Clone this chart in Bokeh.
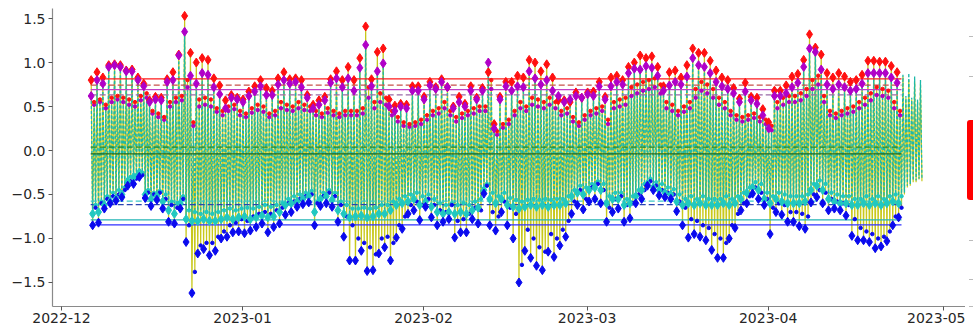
import numpy as np
import pandas as pd
from bokeh.plotting import figure
from bokeh.models import FixedTicker, CustomJSTickFormatter, Range1d, Div
from bokeh.layouts import row
from bokeh.embed import file_html
from bokeh.resources import INLINE

# ---------------- data ----------------
start_date = "2022-12-06"

# observed higher high (red diamonds)
hh_obs = [0.80, 0.89, 0.83, 0.97, 0.98, 0.97, 0.91, 0.92, 0.83, 0.76,
          0.57, 0.61, 0.60, 0.81, 0.89, 1.09, 1.53, 1.11, 1.00, 1.05,
          1.03, 0.82, 0.74, 0.57, 0.63, 0.60, 0.58, 0.67, 0.73, 0.80,
          0.71, 0.68, 0.82, 0.89, 0.81, 0.82, 0.80, 0.63, 0.52, 0.57,
          0.61, 0.81, 0.90, 0.80, 0.95, 0.80, 1.05, 1.41, 0.81, 1.12,
          1.16, 0.58, 0.51, 0.53, 0.52, 0.73, 0.73, 0.61, 0.78, 0.72,
          0.81, 0.72, 0.50, 0.61, 0.53, 0.73, 0.60, 0.71, 0.89, 0.30,
          0.61, 0.78, 0.78, 0.85, 0.83, 1.03, 1.00, 0.90, 0.98, 0.83,
          0.57, 0.57, 0.55, 0.66, 0.60, 0.66, 0.67, 0.78, 0.61, 0.83,
          0.85, 0.80, 0.95, 1.00, 1.08, 1.05, 1.07, 0.95, 0.73, 0.89,
          0.91, 0.83, 0.97, 1.16, 1.11, 1.11, 1.02, 0.91, 0.83, 0.80,
          0.71, 0.59, 0.77, 0.61, 0.60, 0.47, 0.32, 0.68, 0.68, 0.74,
          0.84, 0.87, 1.03, 1.32, 1.17, 1.09, 0.88, 0.83, 0.88, 0.84,
          0.78, 0.80, 0.86, 1.02, 1.02, 1.01, 1.01, 0.96, 0.89]

# predicted higher high (purple diamonds)
hh_pred = [0.62, 0.80, 0.76, 0.95, 0.97, 0.95, 0.90, 0.90, 0.80, 0.73,
           0.55, 0.58, 0.57, 0.78, 0.80, 1.08, 1.35, 0.85, 0.76, 0.88,
           0.86, 0.72, 0.64, 0.48, 0.60, 0.58, 0.55, 0.62, 0.67, 0.73,
           0.63, 0.63, 0.75, 0.80, 0.76, 0.78, 0.72, 0.60, 0.48, 0.52,
           0.57, 0.77, 0.82, 0.72, 0.82, 0.68, 0.94, 1.20, 0.73, 0.90,
           0.99, 0.50, 0.45, 0.50, 0.48, 0.68, 0.68, 0.58, 0.74, 0.70,
           0.78, 0.72, 0.48, 0.55, 0.50, 0.68, 0.58, 0.68, 1.00, 0.25,
           0.58, 0.73, 0.68, 0.73, 0.72, 0.90, 0.82, 0.75, 0.80, 0.68,
           0.62, 0.55, 0.58, 0.62, 0.60, 0.64, 0.62, 0.73, 0.58, 0.73,
           0.78, 0.75, 0.88, 0.93, 0.92, 0.96, 0.94, 0.85, 0.68, 0.74,
           0.78, 0.75, 0.84, 1.05, 0.97, 0.95, 0.88, 0.78, 0.73, 0.70,
           0.65, 0.55, 0.67, 0.57, 0.53, 0.40, 0.25, 0.62, 0.62, 0.65,
           0.72, 0.77, 0.95, 1.16, 1.12, 0.92, 0.75, 0.70, 0.75, 0.72,
           0.68, 0.70, 0.76, 0.88, 0.88, 0.88, 0.88, 0.83, 0.77]

# observed lower high (small red dots)
lh_obs = [0.55, 0.58, 0.52, 0.60, 0.62, 0.60, 0.58, 0.55, 0.62, 0.65,
          0.45, 0.42, 0.38, 0.55, 0.60, 0.62, 0.80, 0.32, 0.58, 0.60,
          0.58, 0.48, 0.45, 0.50, 0.52, 0.45, 0.42, 0.48, 0.52, 0.50,
          0.42, 0.45, 0.55, 0.52, 0.50, 0.55, 0.52, 0.50, 0.45, 0.42,
          0.48, 0.45, 0.42, 0.45, 0.45, 0.45, 0.48, 0.72, 0.55, 0.65,
          0.60, 0.45, 0.38, 0.32, 0.30, 0.32, 0.35, 0.40, 0.45, 0.48,
          0.55, 0.45, 0.38, 0.42, 0.45, 0.48, 0.50, 0.50, 0.80, 0.22,
          0.30, 0.35, 0.45, 0.55, 0.50, 0.60, 0.58, 0.55, 0.60, 0.55,
          0.45, 0.48, 0.38, 0.32, 0.40, 0.45, 0.48, 0.50, 0.35, 0.55,
          0.58, 0.60, 0.72, 0.75, 0.78, 0.80, 0.82, 0.75, 0.55, 0.52,
          0.45, 0.50, 0.55, 0.70, 0.78, 0.75, 0.70, 0.60, 0.55, 0.45,
          0.40, 0.38, 0.40, 0.42, 0.38, 0.35, 0.28, 0.55, 0.60, 0.62,
          0.62, 0.65, 0.70, 0.80, 0.85, 0.62, 0.45, 0.42, 0.45, 0.48,
          0.50, 0.55, 0.60, 0.65, 0.72, 0.70, 0.68, 0.55, 0.45]

# predicted lower high (small purple dots)
lh_pred = [0.52, 0.55, 0.48, 0.55, 0.58, 0.55, 0.52, 0.50, 0.57, 0.60,
           0.42, 0.38, 0.35, 0.50, 0.55, 0.57, 0.72, 0.28, 0.50, 0.52,
           0.50, 0.44, 0.40, 0.45, 0.47, 0.40, 0.38, 0.43, 0.46, 0.44,
           0.38, 0.40, 0.48, 0.46, 0.45, 0.48, 0.46, 0.45, 0.40, 0.38,
           0.43, 0.40, 0.38, 0.40, 0.40, 0.40, 0.42, 0.60, 0.48, 0.55,
           0.52, 0.40, 0.33, 0.28, 0.27, 0.28, 0.30, 0.35, 0.40, 0.42,
           0.48, 0.40, 0.33, 0.37, 0.40, 0.42, 0.45, 0.45, 0.70, 0.18,
           0.26, 0.30, 0.40, 0.48, 0.45, 0.52, 0.50, 0.48, 0.52, 0.48,
           0.40, 0.42, 0.33, 0.28, 0.35, 0.40, 0.42, 0.45, 0.30, 0.48,
           0.50, 0.52, 0.62, 0.65, 0.68, 0.70, 0.72, 0.65, 0.48, 0.45,
           0.40, 0.44, 0.48, 0.60, 0.68, 0.65, 0.60, 0.52, 0.48, 0.40,
           0.35, 0.33, 0.35, 0.37, 0.33, 0.30, 0.23, 0.48, 0.52, 0.55,
           0.55, 0.57, 0.62, 0.70, 0.75, 0.55, 0.40, 0.37, 0.40, 0.42,
           0.44, 0.48, 0.52, 0.57, 0.63, 0.62, 0.60, 0.48, 0.40]

# observed lower low (blue diamonds)
ll_obs = [-0.85, -0.82, -0.66, -0.60, -0.57, -0.53, -0.40, -0.38, -0.30, -0.54,
          -0.63, -0.56, -0.66, -0.81, -0.83, -0.66, -1.04, -1.62, -1.17, -1.12,
          -1.19, -1.14, -1.00, -0.98, -0.93, -0.92, -0.94, -0.91, -0.87, -0.83,
          -0.93, -0.87, -0.83, -0.73, -0.70, -0.64, -0.61, -0.59, -0.85, -0.63,
          -0.60, -0.64, -0.81, -0.98, -1.25, -1.25, -1.14, -1.37, -1.36, -1.17,
          -1.10, -1.25, -0.99, -0.89, -0.72, -0.68, -0.79, -0.64, -0.76, -0.85,
          -0.81, -0.78, -0.99, -0.93, -0.93, -0.78, -0.83, -0.49, -0.85, -0.91,
          -0.70, -0.85, -1.00, -1.50, -1.14, -1.22, -1.31, -1.36, -1.15, -1.21,
          -1.08, -0.98, -0.72, -0.62, -0.67, -0.58, -0.55, -0.60, -0.81, -0.70,
          -0.66, -0.81, -0.77, -0.60, -0.55, -0.40, -0.45, -0.51, -0.53, -0.55,
          -0.69, -0.85, -0.99, -0.95, -0.98, -1.02, -1.13, -1.22, -1.22, -1.00,
          -0.88, -0.68, -0.60, -0.49, -0.55, -0.62, -0.95, -0.70, -0.73, -0.81,
          -0.81, -0.86, -0.89, -0.59, -0.53, -0.60, -0.68, -0.66, -0.68, -0.74,
          -0.97, -1.02, -1.02, -1.04, -1.11, -1.09, -1.03, -0.85, -0.76]

# predicted lower low (teal diamonds)
ll_pred = [-0.72, -0.70, -0.62, -0.58, -0.55, -0.50, -0.35, -0.30, -0.25, -0.50,
           -0.55, -0.52, -0.58, -0.68, -0.72, -0.60, -0.78, -0.80, -0.80, -0.78,
           -0.80, -0.80, -0.78, -0.76, -0.78, -0.76, -0.75, -0.78, -0.76, -0.74,
           -0.76, -0.75, -0.70, -0.62, -0.60, -0.58, -0.55, -0.52, -0.70, -0.55,
           -0.52, -0.56, -0.68, -0.72, -0.76, -0.75, -0.74, -0.76, -0.75, -0.72,
           -0.72, -0.68, -0.62, -0.60, -0.58, -0.55, -0.62, -0.58, -0.64, -0.70,
           -0.72, -0.70, -0.72, -0.70, -0.72, -0.68, -0.65, -0.45, -0.55, -0.60,
           -0.55, -0.62, -0.64, -0.66, -0.64, -0.62, -0.64, -0.62, -0.64, -0.62,
           -0.62, -0.60, -0.52, -0.48, -0.50, -0.45, -0.42, -0.45, -0.60, -0.55,
           -0.55, -0.62, -0.60, -0.52, -0.45, -0.38, -0.42, -0.45, -0.48, -0.50,
           -0.58, -0.62, -0.60, -0.62, -0.60, -0.62, -0.62, -0.62, -0.60, -0.62,
           -0.60, -0.55, -0.48, -0.42, -0.45, -0.55, -0.60, -0.55, -0.58, -0.60,
           -0.60, -0.60, -0.58, -0.45, -0.40, -0.45, -0.55, -0.58, -0.60, -0.60,
           -0.62, -0.62, -0.60, -0.62, -0.60, -0.62, -0.60, -0.58, -0.60]

# observed higher low (small blue dots)
hl_obs = [-0.65, -0.60, -0.55, -0.52, -0.50, -0.45, -0.35, -0.32, -0.28, -0.48,
          -0.50, -0.48, -0.55, -0.62, -0.65, -0.55, -0.85, -1.38, -1.08, -1.05,
          -1.05, -0.98, -0.92, -0.85, -0.82, -0.78, -0.80, -0.75, -0.72, -0.70,
          -0.72, -0.68, -0.65, -0.60, -0.58, -0.55, -0.52, -0.50, -0.60, -0.52,
          -0.48, -0.52, -0.62, -0.75, -0.85, -1.00, -1.05, -1.10, -1.18, -1.00,
          -0.98, -1.05, -0.85, -0.75, -0.62, -0.58, -0.62, -0.55, -0.62, -0.68,
          -0.70, -0.62, -0.80, -0.78, -0.72, -0.65, -0.68, -0.40, -0.70, -0.75,
          -0.58, -0.65, -0.72, -1.30, -0.90, -1.00, -1.10, -1.15, -0.95, -1.00,
          -0.90, -0.80, -0.58, -0.45, -0.55, -0.42, -0.38, -0.45, -0.65, -0.55,
          -0.52, -0.62, -0.60, -0.50, -0.45, -0.35, -0.40, -0.45, -0.48, -0.50,
          -0.58, -0.65, -0.78, -0.80, -0.85, -0.88, -0.95, -1.00, -1.05, -0.85,
          -0.72, -0.60, -0.52, -0.42, -0.48, -0.55, -0.65, -0.60, -0.62, -0.70,
          -0.70, -0.72, -0.75, -0.50, -0.45, -0.48, -0.55, -0.58, -0.60, -0.62,
          -0.78, -0.88, -0.92, -0.95, -1.00, -0.98, -0.92, -0.75, -0.65]

# predicted higher low (small teal dots)
hl_pred = [-0.62, -0.58, -0.52, -0.48, -0.45, -0.42, -0.30, -0.28, -0.25, -0.45,
           -0.48, -0.46, -0.50, -0.58, -0.60, -0.52, -0.68, -0.70, -0.72, -0.70,
           -0.72, -0.70, -0.68, -0.66, -0.68, -0.66, -0.65, -0.66, -0.64, -0.62,
           -0.64, -0.62, -0.60, -0.55, -0.52, -0.50, -0.48, -0.46, -0.58, -0.48,
           -0.45, -0.48, -0.58, -0.62, -0.66, -0.66, -0.65, -0.66, -0.65, -0.62,
           -0.62, -0.58, -0.55, -0.52, -0.50, -0.48, -0.52, -0.50, -0.55, -0.60,
           -0.62, -0.60, -0.62, -0.60, -0.62, -0.58, -0.55, -0.38, -0.48, -0.52,
           -0.48, -0.54, -0.56, -0.58, -0.56, -0.55, -0.56, -0.55, -0.56, -0.55,
           -0.55, -0.52, -0.45, -0.40, -0.42, -0.38, -0.35, -0.38, -0.52, -0.48,
           -0.48, -0.55, -0.52, -0.45, -0.38, -0.32, -0.36, -0.38, -0.42, -0.44,
           -0.50, -0.55, -0.52, -0.55, -0.52, -0.55, -0.55, -0.55, -0.52, -0.55,
           -0.52, -0.48, -0.42, -0.36, -0.38, -0.48, -0.52, -0.48, -0.50, -0.52,
           -0.52, -0.52, -0.50, -0.38, -0.34, -0.38, -0.48, -0.50, -0.52, -0.52,
           -0.55, -0.55, -0.52, -0.55, -0.52, -0.55, -0.52, -0.50, -0.52]

# last days of the series (lines only, no markers): [HH, LL, LH, HL] per day
tail_obs = [0.84, -0.50, 0.60, -0.42, 0.80, -0.40, 0.58, -0.36,
            0.78, -0.36, 0.55, -0.33, 0.75, -0.35]
tail_pred = [0.86, -0.48, 0.62, -0.40, 0.88, -0.38, 0.60, -0.34,
             0.84, -0.34, 0.58, -0.32, 0.80, -0.33]

# datum lines
datum_values = [0.815, 0.742, 0.693, 0.633, 0.038, -0.038, -0.576, -0.614, -0.788, -0.845]
datum_colors = ["#ff1a1a", "#c8504a", "#c040c8", "#9a6aa8", "#2a8a2a",
                "#1f6a1f", "#3cc8c8", "#2a44b0", "#22b4b4", "#3030ff"]
datum_dashes = ["solid", "6 3", "solid", "6 3", "6 3",
                "solid", "6 3", "6 3", "solid", "solid"]

x_tick_labels = ["2022-12", "2023-01", "2023-02", "2023-03", "2023-04", "2023-05"]
y_ticks = [-1.5, -1.0, -0.5, 0.0, 0.5, 1.0, 1.5]

# ---------------- build ----------------
n = len(hh_obs)
days = pd.date_range(start_date, periods=n, freq="D")
t_hh = days + pd.Timedelta(hours=2)
t_ll = days + pd.Timedelta(hours=8)
t_lh = days + pd.Timedelta(hours=14)
t_hl = days + pd.Timedelta(hours=20)

def interleave(a, b, c, d):
    out = []
    for i in range(len(a)):
        out += [a[i], b[i], c[i], d[i]]
    return out

line_t = interleave(list(t_hh), list(t_ll), list(t_lh), list(t_hl))
tail_start = days[-1] + pd.Timedelta(days=1)
tail_t = [tail_start + pd.Timedelta(hours=2 + 6 * k) for k in range(len(tail_obs))]
line_t = line_t + tail_t
obs_line = interleave(hh_obs, ll_obs, lh_obs, hl_obs) + tail_obs
pred_line = interleave(hh_pred, ll_pred, lh_pred, hl_pred) + tail_pred

x_start = pd.Timestamp("2022-11-29 11:00")
x_end = pd.Timestamp("2023-05-04 19:00")

p = figure(width=965, height=328, x_axis_type="datetime",
           output_backend="svg", toolbar_location=None,
           x_range=Range1d(x_start, x_end), y_range=Range1d(-1.773, 1.614),
           min_border_left=52, min_border_right=0, min_border_top=8, min_border_bottom=22)
p.grid.visible = False
p.outline_line_color = None
p.background_fill_color = "white"

p.line(line_t, obs_line, color="#c8c81a", line_width=1.2)
p.line(line_t, pred_line, color="#1cb8a8", line_width=1.3, line_dash="3 2")

d0 = days[0]
d1 = days[-1] + pd.Timedelta(hours=20)
for v, c, dsh in zip(datum_values, datum_colors, datum_dashes):
    p.segment(x0=[d0], y0=[v], x1=[d1], y1=[v], line_color=c, line_width=1.3, line_dash=dsh)

# small dots
p.scatter(t_lh, lh_pred, marker="circle", size=3.5, color="#b000c0")
p.scatter(t_lh, lh_obs, marker="circle", size=3.5, color="#ff1010")
p.scatter(t_hl, hl_pred, marker="circle", size=3.5, color="#20c8c0")
p.scatter(t_hl, hl_obs, marker="circle", size=3.5, color="#0a0aee")
# diamonds
p.scatter(t_hh, hh_obs, marker="diamond", size=9, color="#ff1010")
p.scatter(t_hh, hh_pred, marker="diamond", size=9, color="#b000c8")
p.scatter(t_ll, ll_pred, marker="diamond", size=9, color="#20c8c0")
p.scatter(t_ll, ll_obs, marker="diamond", size=9, color="#0a0aee")

# axes
tick_ms = [pd.Timestamp(s + "-01").value / 1e6 for s in x_tick_labels]
p.xaxis.ticker = FixedTicker(ticks=tick_ms)
p.xaxis.formatter = CustomJSTickFormatter(code="""
const d = new Date(tick);
return d.getUTCFullYear() + '-' + String(d.getUTCMonth() + 1).padStart(2, '0');
""")
p.yaxis.ticker = FixedTicker(ticks=y_ticks)
p.yaxis.formatter = CustomJSTickFormatter(code="return tick.toFixed(1).replace('-', '\\u2212');")
for ax in (p.xaxis, p.yaxis):
    ax.axis_line_color = "#8a8a8a"
    ax.axis_line_width = 1.2
    ax.major_tick_line_color = "#555555"
    ax.major_tick_in = 0
    ax.major_tick_out = 4
    ax.minor_tick_line_color = None
    ax.major_label_text_font = "DejaVu Sans"
    ax.major_label_text_font_size = "14px"
    ax.major_label_text_color = "#262626"
p.yaxis.major_label_standoff = 3
p.xaxis.major_label_standoff = 2

# fragment of the neighbouring panel at the right edge (cut off by the window)
ticks_html = "".join(
    '<div style="position:absolute;left:4px;top:%dpx;width:6px;height:1px;background:#bbbbbb"></div>' % yy
    for yy in [36, 76, 240, 279, 306])
edge = Div(width=8, height=328, styles={"margin": "0", "padding": "0", "overflow": "hidden"},
           text='<div style="position:relative;width:8px;height:328px;overflow:hidden">'
                + ticks_html +
                '<div style="position:absolute;left:2px;top:120px;width:12px;height:80px;'
                'background:#ff0000;border-radius:3px"></div></div>')

layout = row(p, edge, spacing=0)
open("out.html", "w").write(file_html(layout, INLINE))
